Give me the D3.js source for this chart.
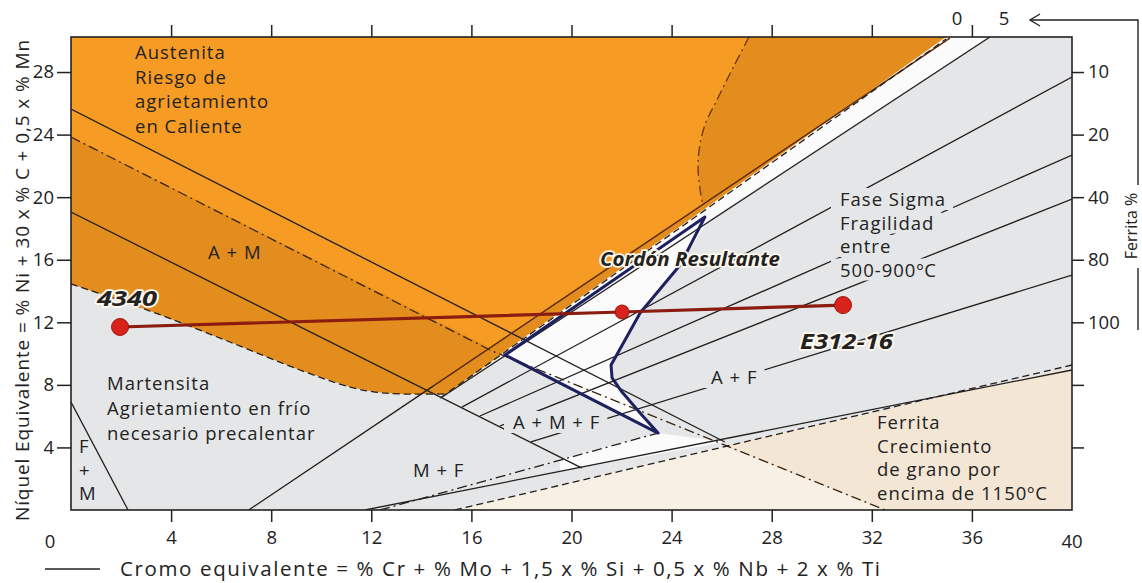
<!DOCTYPE html>
<html><head><meta charset="utf-8">
<script src="https://cdn.jsdelivr.net/npm/d3@7"></script>
<style>
body{margin:0;background:#fff}
svg{display:block}
text{font-family:"Open Sans",sans-serif;fill:#222}
</style>
</head><body>
<svg id="c" width="1142" height="583"></svg>
<script>
// ---------- data (Cr equivalent, Ni equivalent) ----------
const xTicks = [4, 8, 12, 16, 20, 24, 28, 32, 36];
const yTicks = [4, 8, 12, 16, 20, 24, 28];
const ferriteTickLabels = ["", "", "100", "80", "40", "20", "10"]; // for yTicks 4..28
const topFerriteLabels = ["0", "5"];

// iso-ferrite lines
const ferrite0   = [[7.1, 0], [14.5, 7.95], [35.12, 30.17]];
const ferrite0b  = [[14.75, 7.16], [34.97, 30.11]];      // dashed companion
const ferrite5   = [[14.83, 7.22], [36.72, 30.24]];
const ferrite10  = [[15.62, 6.58], [40, 27.68]];
const ferrite20  = [[16.34, 6.01], [40, 22.69]];
const ferrite40  = [[17.14, 5.37], [40, 19.88]];
const ferrite80  = [[18.38, 4.35], [40, 15.02]];
const ferrite100 = [[11.75, 0], [40, 8.95]];
const ferrite100b= [[15.34, 0], [40, 9.27]];              // dashed companion
// other boundaries
const upperLine  = [[0, 25.63], [26.13, 4.35]];
const martLine   = [[0, 19.05], [20.42, 2.68]];
const fmLine     = [[0, 6.9], [2.28, 0]];
const hotCrackBound = [[0, 23.84], [16.74, 10.23], [22.86, 6.26], [32.53, 0]];
const martZoneBound = [[12.35, 0], [23.46, 4.92]];
const sigmaBound = [[27.09, 30.24], [26.45, 28.26], [25.81, 26.21], [25.33, 24.61],
                    [25.10, 23.01], [25.06, 21.74], [25.14, 20.46], [25.25, 19.5]];
const austLower  = [[0, 14.45], [3.16, 12.72], [6.35, 10.74], [9.15, 8.95],
                    [11.15, 7.86], [12.15, 7.54], [13.15, 7.42], [14.98, 7.42]];
// weld bead region (Cordón resultante)
const bead = [[25.33, 18.73], [24.34, 15.66], [22.74, 12.59], [22.14, 10.87], [21.58, 9.27],
              [21.62, 8.44], [22.02, 7.54], [22.74, 6.20], [23.46, 4.92], [17.34, 9.91]];
// dilution line
const dilution = [[1.96, 11.70], [22.02, 12.66], [30.85, 13.10]];
const dilutionNames = ["4340", "", "E312-16"];

// ---------- drawing ----------
const svg = d3.select("#c");
const x = d3.scaleLinear().domain([0, 40]).range([71, 1072]);
const y = d3.scaleLinear().domain([0, 30.24]).range([510, 37]);
const line = d3.line().x(d => x(d[0])).y(d => y(d[1]));
const lineCurve = d3.line().x(d => x(d[0])).y(d => y(d[1])).curve(d3.curveCatmullRom);
const TOP = 30.24;

const COL = {bg: "#e4e6e8", orange: "#f69b24", orangeD: "#e48d1f", white: "#fbfbfb",
             beige: "#f9f0e5", beigeD: "#f4e6d5", ink: "#231f1c", brown: "#5a2c10"};

svg.append("defs").append("clipPath").attr("id", "clip")
  .append("rect").attr("x", x(0)).attr("y", y(TOP)).attr("width", x(40) - x(0)).attr("height", y(0) - y(TOP));

const g = svg.append("g").attr("clip-path", "url(#clip)");
g.append("rect").attr("x", x(0)).attr("y", y(TOP)).attr("width", x(40) - x(0)).attr("height", y(0) - y(TOP)).attr("fill", COL.bg);

function atX(seg, xv) { const a = seg[0], b = seg[seg.length - 1]; return [xv, a[1] + (b[1] - a[1]) * (xv - a[0]) / (b[0] - a[0])]; }

// dark orange (austenite + A+M)
const darkOrange = [[0, TOP], [ferrite0b[1][0], TOP], [14.98, 7.42]].concat(austLower.slice().reverse());
g.append("path").attr("d", line(darkOrange) + "Z").attr("fill", COL.orangeD);
// bright orange (austenite, hot cracking)
const brightOrange = sigmaBound.concat([atX(ferrite0, 16.74), [0, 23.84], [0, TOP]]);
g.append("path").attr("d", line(brightOrange) + "Z").attr("fill", COL.orange);
// beige (ferrite, grain growth)
g.append("path").attr("d", line([[15.34, 0], [26.1, 4.1], [32.53, 0]]) + "Z").attr("fill", COL.beige);
g.append("path").attr("d", line([[26.1, 4.1], [40, 9.1], [40, 0], [32.53, 0]]) + "Z").attr("fill", COL.beigeD);
// white (safe) zone
const whiteZone = [[34.97, TOP], [36.72, TOP], [25.45, 18.5]]
  .concat(bead.slice(1, 9))
  .concat([[26.13, 4.35], atX(ferrite100, 19.54), [19.54, 3.26], [23.46, 4.92], [17.34, 9.91], [17.2, 10.0]]);
g.append("path").attr("d", line(whiteZone) + "Z").attr("fill", COL.white);

const DASH = "7,4", DASHDOT = "10,4,2,4";
function drawLine(pts, opt = {}) {
  g.append("path").attr("d", (opt.curve ? lineCurve : line)(pts)).attr("fill", "none")
    .attr("stroke", opt.color || COL.ink).attr("stroke-width", opt.w || 1.3)
    .attr("stroke-dasharray", opt.dash || null);
}
drawLine(upperLine);
drawLine(martLine);
drawLine(fmLine);
drawLine(hotCrackBound, {dash: DASHDOT, color: "#3a2614"});
drawLine(martZoneBound, {dash: DASHDOT});
drawLine(sigmaBound, {dash: DASHDOT, curve: true, color: "#6a3512"});
drawLine(austLower, {dash: DASH, curve: true, color: "#2a2018"});
drawLine(ferrite0.slice(0, 2));
drawLine(ferrite0.slice(1), {color: COL.brown, w: 1.5});
drawLine(ferrite0b, {dash: DASH});
[ferrite5, ferrite10, ferrite20, ferrite40, ferrite80].forEach(s => drawLine(s));
drawLine(ferrite100);
drawLine(ferrite100b, {dash: DASH});

// text labels inside plot (with masks that interrupt lines)
const labels = [
  {lines: ["Austenita", "Riesgo de", "agrietamiento", "en Caliente"], x: 135, y: 59, dy: 24.5},
  {lines: ["A + M"], x: 208, y: 259},
  {lines: ["Martensita", "Agrietamiento en frío", "necesario precalentar"], x: 107, y: 390, dy: 25},
  {lines: ["F", "+", "M"], x: 79, y: 453, dy: 23.5},
  {lines: ["M + F"], x: 413, y: 477},
  {lines: ["A + M + F"], x: 513, y: 429, mask: COL.bg},
  {lines: ["A + F"], x: 711, y: 384, mask: COL.bg},
  {lines: ["Fase Sigma", "Fragilidad", "entre", "500-900ºC"], x: 840, y: 206, dy: 23.5, mask: COL.bg},
  {lines: ["Ferrita", "Crecimiento", "de grano por", "encima de 1150ºC"], x: 877, y: 429, dy: 23.5}
];
const lg = svg.append("g");
labels.forEach(L => {
  L.lines.forEach((t, i) => {
    const tx = lg.append("text").attr("x", L.x).attr("y", L.y + i * (L.dy || 0))
      .attr("font-size", 18.5).attr("letter-spacing", 1).attr("fill", "#262626").text(t);
    if (L.mask) {
      const b = tx.node().getBBox();
      lg.insert("rect", () => tx.node()).attr("x", b.x - 9).attr("y", b.y + 2)
        .attr("width", b.width + 16).attr("height", b.height - 3).attr("fill", L.mask);
    }
  });
});

// weld bead
svg.append("path").attr("d", line(bead) + "Z").attr("fill", "none")
  .attr("stroke", "#1d2160").attr("stroke-width", 3).attr("stroke-linejoin", "round");

// dilution line + points
svg.append("path").attr("d", line(dilution)).attr("fill", "none")
  .attr("stroke", "#8a1c10").attr("stroke-width", 3.2);
svg.selectAll("circle.pt").data(dilution).join("circle").attr("class", "pt")
  .attr("cx", d => x(d[0])).attr("cy", d => y(d[1])).attr("r", (d, i) => i === 1 ? 7 : 8.5)
  .attr("fill", "#d8231c").attr("stroke", "#9a1510").attr("stroke-width", 1);

// bold labels with halo
const bold = [
  {t: dilutionNames[0], x: 97, y: 306, size: 22, len: 60},
  {t: dilutionNames[2], x: 800, y: 349, size: 22, len: 93},
  {t: "Cordón Resultante", x: 600, y: 266, size: 20, len: 180}
];
bold.forEach(b => svg.append("text").attr("x", b.x).attr("y", b.y).attr("font-size", b.size)
  .attr("font-weight", 700).attr("font-style", "italic").attr("fill", "#1a1a1a")
  .attr("textLength", b.len).attr("lengthAdjust", "spacingAndGlyphs")
  .attr("stroke", "#fff8ee").attr("stroke-width", 3.5).attr("paint-order", "stroke")
  .attr("stroke-linejoin", "round").text(b.t));

// frame
svg.append("rect").attr("x", x(0)).attr("y", y(TOP)).attr("width", x(40) - x(0)).attr("height", y(0) - y(TOP))
  .attr("fill", "none").attr("stroke", "#222").attr("stroke-width", 1.6);

// axes
function styleAxis(sel) {
  sel.select(".domain").remove();
  sel.selectAll("line").attr("stroke", "#222").attr("stroke-width", 1.5);
  sel.selectAll("text").attr("font-size", 18.5).attr("fill", "#333").attr("font-family", '"Open Sans",sans-serif');
}
svg.append("g").attr("transform", `translate(0,${y(0)})`)
  .call(d3.axisBottom(x).tickValues(xTicks).tickSize(12).tickPadding(9)).call(styleAxis);
svg.append("g").attr("transform", `translate(0,${y(TOP)})`)
  .call(d3.axisTop(x).tickValues(xTicks).tickSize(12).tickFormat("")).call(styleAxis);
svg.append("g").attr("transform", `translate(${x(0)},0)`)
  .call(d3.axisLeft(y).tickValues(yTicks).tickSize(14).tickPadding(3)).call(styleAxis);
svg.append("g").attr("transform", `translate(${x(40)},0)`)
  .call(d3.axisRight(y).tickValues(yTicks).tickSize(12).tickPadding(4)
    .tickFormat((d, i) => ferriteTickLabels[i])).call(styleAxis);
// end labels 0 and 40 on x-axis
svg.append("text").attr("x", 50).attr("y", 548).attr("text-anchor", "middle").attr("font-size", 18.5).attr("fill", "#333").text("0");
svg.append("text").attr("x", x(40)).attr("y", 548).attr("text-anchor", "middle").attr("font-size", 18.5).attr("fill", "#333").text("40");
// top ferrite labels
topFerriteLabels.forEach((t, i) => svg.append("text").attr("x", i === 0 ? 957 : 1004).attr("y", 25)
  .attr("text-anchor", "middle").attr("font-size", 18.5).attr("fill", "#333").text(t));
// arrow + bracket to "Ferrita %"
svg.append("path").attr("d", "M1030,20 L1138,20 L1138,185 M1138,268 L1138,330").attr("fill", "none").attr("stroke", "#222").attr("stroke-width", 1.4);
svg.append("path").attr("d", "M1040,14 L1030,20 L1040,26").attr("fill", "none").attr("stroke", "#222").attr("stroke-width", 1.4);
svg.append("text").attr("transform", "translate(1137,226) rotate(-90)").attr("text-anchor", "middle")
  .attr("font-size", 16).attr("fill", "#333").text("Ferrita %");

// y title
svg.append("text").attr("transform", "translate(29,280) rotate(-90)").attr("text-anchor", "middle")
  .attr("font-size", 19).attr("letter-spacing", 0.9).attr("fill", "#333").text("Níquel Equivalente = % Ni + 30 x % C + 0,5 x % Mn");
// x title
svg.append("line").attr("x1", 45).attr("x2", 100).attr("y1", 569).attr("y2", 569).attr("stroke", "#222").attr("stroke-width", 1.5);
svg.append("text").attr("x", 120).attr("y", 576).attr("font-size", 20.5).attr("fill", "#333")
  .attr("textLength", 760).attr("lengthAdjust", "spacing")
  .text("Cromo equivalente = % Cr + % Mo + 1,5 x % Si + 0,5 x % Nb + 2 x % Ti");
</script>
</body></html>
